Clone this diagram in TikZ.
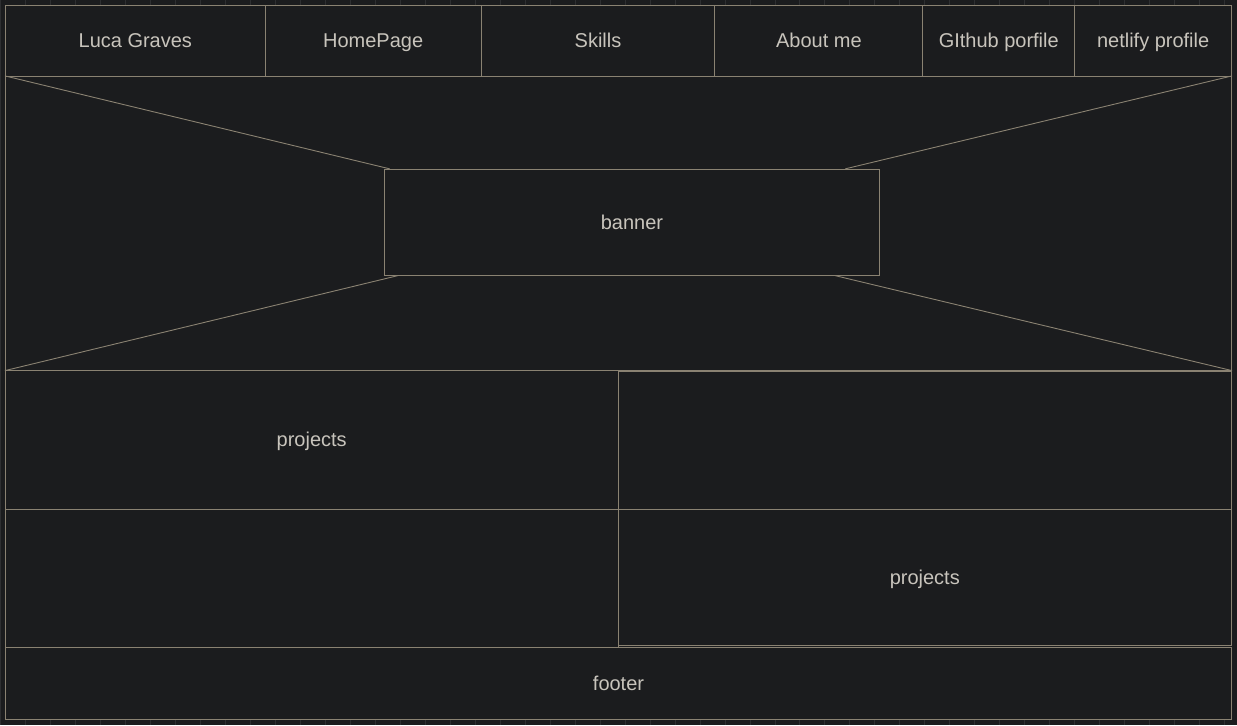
\documentclass[tikz,border=0pt]{standalone}
\usepackage{fontspec}
\setmainfont{Liberation Sans}
\usepackage{tikz}
\usetikzlibrary{positioning, calc}

\definecolor{pagebg}{HTML}{1B1C1E}
\definecolor{gridln}{HTML}{2E2F31}
\definecolor{wireln}{HTML}{8A8272}
\definecolor{wiretxt}{HTML}{C8C4BC}

\begin{document}
\begin{tikzpicture}[
  x=1pt, y=-1pt,
  cell/.style={rectangle, draw=wireln, line width=0.9pt, inner sep=0pt,
               text height=18pt, text depth=4pt,
               text=wiretxt, font=\fontsize{20}{24}\selectfont},
  wire/.style={draw=wireln, line width=0.9pt}
]

% Background and faint grid
\fill[pagebg] (0,0) rectangle (1237,725);
\draw[gridln, line width=0.8pt, step=25] (0,0) grid (1237,725);
\fill[pagebg] (5,5) rectangle (1232,720);
\useasboundingbox (0,0) rectangle (1237,725);

% Navigation bar
\node[cell, minimum width=260, minimum height=71] (nav1) at (135,40.5) {Luca Graves};
\node[cell, minimum width=216, minimum height=71] (nav2) at (373,40.5) {HomePage};
\node[cell, minimum width=234, minimum height=71] (nav3) at (598,40.5) {Skills};
\node[cell, minimum width=208, minimum height=71] (nav4) at (819,40.5) {About me};
\node[cell, minimum width=152, minimum height=71] (nav5) at (999,40.5) {GIthub porfile};
\node[cell, minimum width=157, minimum height=71] (nav6) at (1153.5,40.5) {netlify profile};

% Hero area with banner
\node[cell, minimum width=1227, minimum height=294] (hero) at (618.5,223) {};
\node[cell, minimum width=496, minimum height=106] (banner) at (632,222) {banner};

\draw[wire] (hero.north west) -- ([xshift=6pt]banner.north west);
\draw[wire] (hero.north east) -- ([xshift=-35pt]banner.north east);
\draw[wire] (hero.south west) -- ([xshift=14pt]banner.south west);
\draw[wire] (hero.south east) -- ([xshift=-45pt]banner.south east);

% Projects grid
\node[cell, minimum width=613, minimum height=139] (proj1) at (311.5,439.5) {projects};
\node[cell, minimum width=614, minimum height=138] (proj2) at (925,440) {};
\node[cell, minimum width=613, minimum height=138] (proj3) at (311.5,578) {};
\node[cell, minimum width=614, minimum height=136] (proj4) at (925,577) {projects};

% Footer
\node[cell, minimum width=1227, minimum height=73] (footer) at (618.5,683.5) {footer};

\end{tikzpicture}
\end{document}
